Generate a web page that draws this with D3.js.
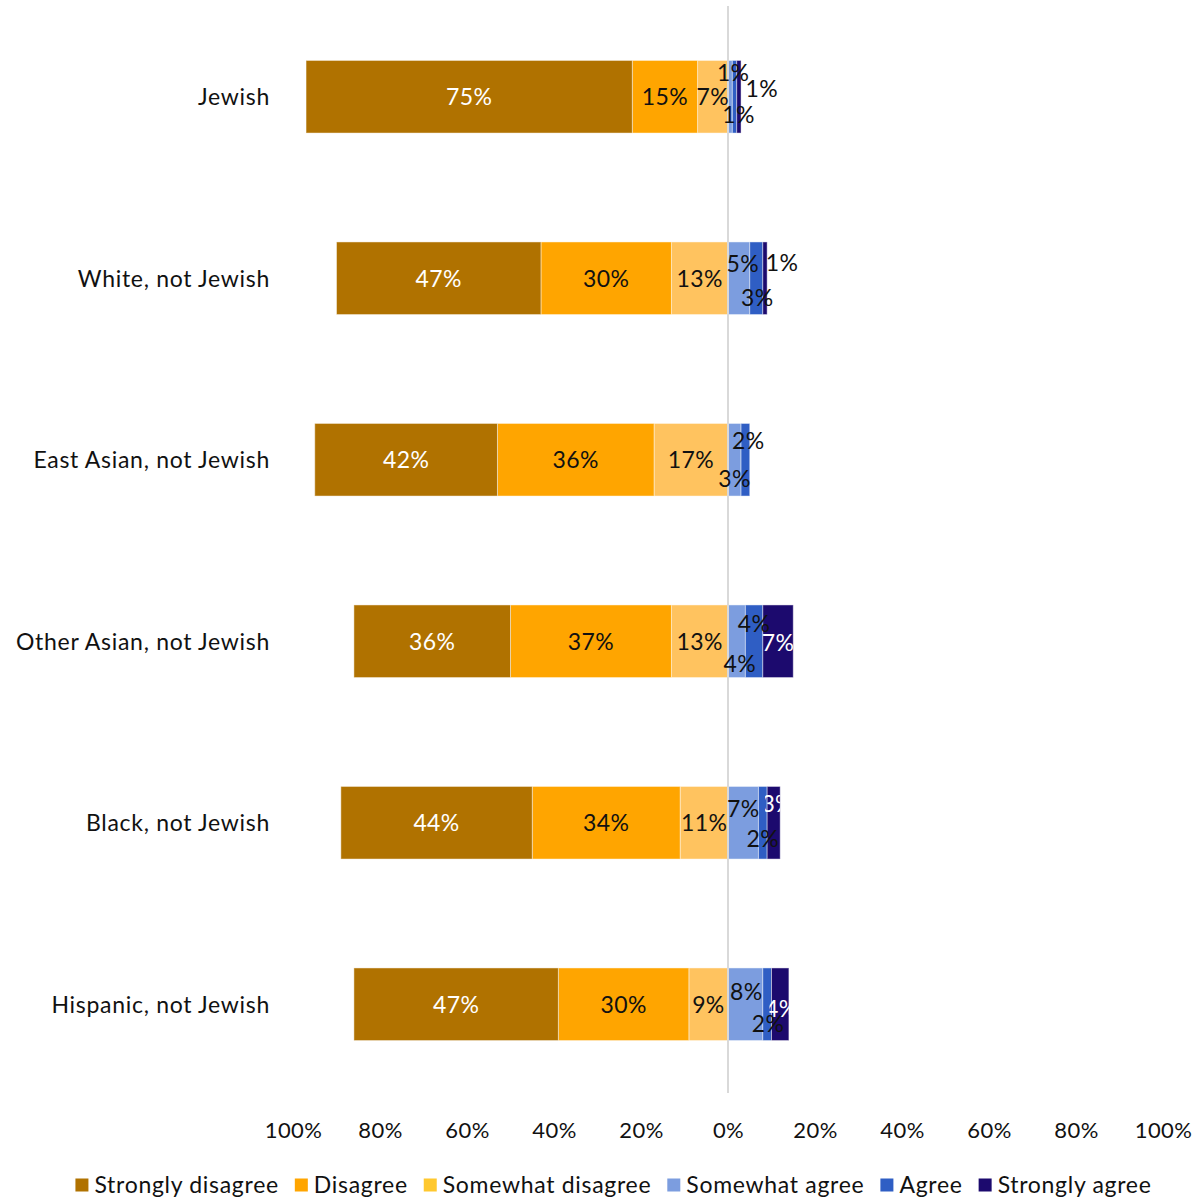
<!DOCTYPE html>
<html>
<head>
<meta charset="utf-8">
<script src="https://cdn.jsdelivr.net/npm/d3@7/dist/d3.min.js"></script>
<style>
  html, body { margin: 0; padding: 0; background: #fff; }
  svg { display: block; font-family: Lato, "Open Sans", sans-serif; }
</style>
</head>
<body>
<svg id="chart" width="1203" height="1202"></svg>
<script>
// Groups, top to bottom
const categories = [
  "Jewish",
  "White, not Jewish",
  "East Asian, not Jewish",
  "Other Asian, not Jewish",
  "Black, not Jewish",
  "Hispanic, not Jewish"
];

// Response levels, from the centre outwards on each side
const disagreeSeries = ["Somewhat disagree", "Disagree", "Strongly disagree"];
const agreeSeries = ["Somewhat agree", "Agree", "Strongly agree"];
const legendOrder = ["Strongly disagree", "Disagree", "Somewhat disagree", "Somewhat agree", "Agree", "Strongly agree"];

// Percent of each group giving each response
const stronglyDisagree = [75, 47, 42, 36, 44, 47];
const disagree         = [15, 30, 36, 37, 34, 30];
const somewhatDisagree = [ 7, 13, 17, 13, 11,  9];
const somewhatAgree    = [ 1,  5,  3,  4,  7,  8];
const agree            = [ 1,  3,  2,  4,  2,  2];
const stronglyAgree    = [ 1,  1,  0,  7,  3,  4];

// Axis tick values and their printed labels
const tickValues = [-100, -80, -60, -40, -20, 0, 20, 40, 60, 80, 100];
const tickLabels = ["100%", "80%", "60%", "40%", "20%", "0%", "20%", "40%", "60%", "80%", "100%"];

const values = {
  "Strongly disagree": stronglyDisagree,
  "Disagree": disagree,
  "Somewhat disagree": somewhatDisagree,
  "Somewhat agree": somewhatAgree,
  "Agree": agree,
  "Strongly agree": stronglyAgree
};

// Styling
const barColor = {
  "Strongly disagree": "#b07200",
  "Disagree": "#ffa500",
  "Somewhat disagree": "#ffc35f",
  "Somewhat agree": "#7c9ddf",
  "Agree": "#2f5ec4",
  "Strongly agree": "#1c0a6e"
};
const swatchColor = Object.assign({}, barColor, { "Somewhat disagree": "#ffc82e" });
const labelColor = {
  "Strongly disagree": "#fff",
  "Disagree": "#111",
  "Somewhat disagree": "#111",
  "Somewhat agree": "#111",
  "Agree": "#111",
  "Strongly agree": "#fff"
};

// Hand-placed offsets [dx, dy] for the crowded labels on the agree side
const agreeLabelNudge = [
  { "Somewhat agree": [3, -24], "Agree": [4, 18],  "Strongly agree": [23, -8] },
  { "Somewhat agree": [4, -15], "Agree": [1, 19],  "Strongly agree": [17, -16] },
  { "Somewhat agree": [0, 19],  "Agree": [3, -19], "Strongly agree": [0, 0] },
  { "Somewhat agree": [3, 22],  "Agree": [0, -18], "Strongly agree": [0, 1] },
  { "Somewhat agree": [0, -14], "Agree": [0, 16],  "Strongly agree": [4, -19] },
  { "Somewhat agree": [1, -13], "Agree": [1, 19],  "Strongly agree": [1, 4] }
];

const textSpacing = 0.7;
const svg = d3.select("#chart");

const x = d3.scaleLinear().domain([-100, 100]).range([293, 1163]);
const y = d3.scaleBand().domain(categories).range([6, 1095]).paddingInner(0.6).paddingOuter(0.3);

// Build stacked segments outward from zero
const segments = [];
categories.forEach((cat, i) => {
  let acc = 0;
  disagreeSeries.forEach(s => {
    const v = values[s][i];
    segments.push({ cat, i, series: s, v, x0: -(acc + v), x1: -acc, side: "dis" });
    acc += v;
  });
  acc = 0;
  agreeSeries.forEach(s => {
    const v = values[s][i];
    segments.push({ cat, i, series: s, v, x0: acc, x1: acc + v, side: "agr" });
    acc += v;
  });
});
const drawn = segments.filter(d => d.v > 0);

// Thin segments push their label outside the bar, where it is drawn dark
const insideBar = d => x(d.x1) - x(d.x0) > 10;

const defs = svg.append("defs");
drawn.forEach((d, k) => {
  d.clipId = "seg-clip-" + k;
  defs.append("clipPath").attr("id", d.clipId)
    .append("rect")
    .attr("x", x(d.x0) - 2)
    .attr("y", y(d.cat) - 40)
    .attr("width", x(d.x1) - x(d.x0) + 2)
    .attr("height", y.bandwidth() + 80);
});

// Bars
svg.append("g").selectAll("rect")
  .data(drawn)
  .join("rect")
  .attr("x", d => x(d.x0))
  .attr("y", d => y(d.cat))
  .attr("width", d => x(d.x1) - x(d.x0))
  .attr("height", y.bandwidth())
  .attr("fill", d => barColor[d.series])
  .attr("stroke", "#ffffff")
  .attr("stroke-opacity", 0.45)
  .attr("stroke-width", 1);

// Zero line
svg.append("line")
  .attr("x1", x(0)).attr("x2", x(0))
  .attr("y1", 6).attr("y2", 1093)
  .attr("stroke", "#d9d9d9")
  .attr("stroke-width", 2);

// Value labels
svg.append("g").selectAll("text")
  .data(drawn)
  .join("text")
  .attr("x", d => {
    const cx = (x(d.x0) + x(d.x1)) / 2;
    return d.side === "agr" ? cx + agreeLabelNudge[d.i][d.series][0] : cx;
  })
  .attr("y", d => {
    const cy = y(d.cat) + y.bandwidth() / 2;
    return d.side === "agr" ? cy + agreeLabelNudge[d.i][d.series][1] : cy;
  })
  .attr("dy", "0.36em")
  .attr("text-anchor", "middle")
  .attr("font-size", 23)
  .attr("letter-spacing", 0.4)
  .attr("fill", d => (insideBar(d) ? labelColor[d.series] : "#111"))
  .attr("clip-path", d => d.series === "Strongly agree" && insideBar(d) ? `url(#${d.clipId})` : null)
  .text(d => d.v + "%");

// Category labels
svg.append("g").selectAll("text")
  .data(categories)
  .join("text")
  .attr("x", 270)
  .attr("y", d => y(d) + y.bandwidth() / 2)
  .attr("dy", "0.36em")
  .attr("text-anchor", "end")
  .attr("font-size", 23)
  .attr("letter-spacing", textSpacing)
  .attr("fill", "#111")
  .text(d => d);

// X axis (labels only)
const xAxis = d3.axisBottom(x)
  .tickValues(tickValues)
  .tickFormat((d, i) => tickLabels[i])
  .tickSize(0)
  .tickPadding(0);
const axisG = svg.append("g")
  .attr("transform", "translate(0,1122)")
  .call(xAxis);
axisG.select(".domain").remove();
axisG.selectAll("text")
  .attr("font-size", 22)
  .attr("letter-spacing", 0.4)
  .attr("font-family", "Lato, 'Open Sans', sans-serif")
  .attr("fill", "#111");

// Legend
const legend = svg.append("g");
const items = legend.selectAll("g")
  .data(legendOrder)
  .join("g");
items.append("rect")
  .attr("width", 13).attr("height", 13)
  .attr("y", -6.5)
  .attr("fill", d => swatchColor[d]);
items.append("text")
  .attr("x", 19)
  .attr("dy", "0.36em")
  .attr("font-size", 23)
  .attr("letter-spacing", textSpacing)
  .attr("fill", "#111")
  .text(d => d);
let cursor = 0;
const gap = 16;
items.each(function () {
  const g = d3.select(this);
  const w = 19 + g.select("text").node().getComputedTextLength();
  g.attr("transform", `translate(${cursor},0)`);
  cursor += w + gap;
});
const totalW = cursor - gap;
legend.attr("transform", `translate(${613.5 - totalW / 2},1185)`);
</script>
</body>
</html>
